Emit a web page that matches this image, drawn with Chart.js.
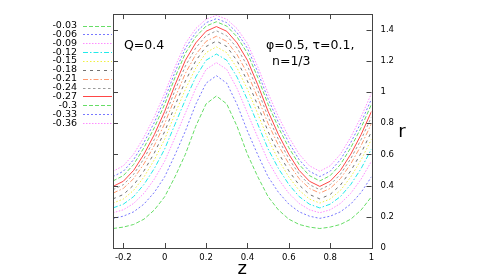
<!DOCTYPE html>
<html>
<head>
<meta charset="utf-8">
<script src="https://cdn.jsdelivr.net/npm/chart.js@4.4.1/dist/chart.umd.min.js"></script>
<style>
  html, body { margin: 0; padding: 0; background: #fff; }
  canvas { display: block; }
</style>
</head>
<body>
<canvas id="chart" width="485" height="277"></canvas>
<script>
// posiciones z (eje x)
const zVals = [-0.25, -0.2, -0.15, -0.1, -0.05, 0, 0.05, 0.1, 0.15, 0.2, 0.25, 0.3, 0.35,
               0.4, 0.45, 0.5, 0.55, 0.6, 0.65, 0.7, 0.75, 0.8, 0.85, 0.9, 0.95, 1.0];

// valores de r para cada curva
const r003 = [0.125,0.134,0.151,0.185,0.244,0.329,0.457,0.601,0.780,0.924,0.975,0.924,0.780,0.601,0.457,0.329,0.244,0.185,0.151,0.134,0.125,0.134,0.151,0.185,0.244,0.329];
const r006 = [0.190,0.204,0.232,0.282,0.357,0.457,0.598,0.750,0.921,1.057,1.105,1.057,0.921,0.750,0.598,0.457,0.357,0.282,0.232,0.204,0.190,0.204,0.232,0.282,0.357,0.457];
const r009 = [0.226,0.245,0.286,0.351,0.442,0.557,0.709,0.865,1.023,1.145,1.189,1.145,1.023,0.865,0.709,0.557,0.442,0.351,0.286,0.245,0.226,0.245,0.286,0.351,0.442,0.557];
const r012 = [0.257,0.281,0.330,0.408,0.510,0.635,0.794,0.951,1.096,1.204,1.244,1.204,1.096,0.951,0.794,0.635,0.510,0.408,0.330,0.281,0.257,0.281,0.330,0.408,0.510,0.635];
const r015 = [0.288,0.314,0.370,0.456,0.566,0.698,0.861,1.018,1.154,1.253,1.290,1.253,1.154,1.018,0.861,0.698,0.566,0.456,0.370,0.314,0.288,0.314,0.370,0.456,0.566,0.698];
const r018 = [0.315,0.343,0.404,0.495,0.610,0.747,0.914,1.071,1.200,1.292,1.327,1.292,1.200,1.071,0.914,0.747,0.610,0.495,0.404,0.343,0.315,0.343,0.404,0.495,0.610,0.747];
const r021 = [0.352,0.382,0.445,0.540,0.658,0.798,0.964,1.120,1.240,1.325,1.358,1.325,1.240,1.120,0.964,0.798,0.658,0.540,0.445,0.382,0.352,0.382,0.445,0.540,0.658,0.798];
const r024 = [0.374,0.406,0.473,0.574,0.696,0.841,1.011,1.167,1.283,1.361,1.393,1.361,1.283,1.167,1.011,0.841,0.696,0.574,0.473,0.406,0.374,0.406,0.473,0.574,0.696,0.841];
const r027 = [0.395,0.428,0.498,0.602,0.728,0.876,1.047,1.204,1.315,1.390,1.420,1.390,1.315,1.204,1.047,0.876,0.728,0.602,0.498,0.428,0.395,0.428,0.498,0.602,0.728,0.876];
const r030 = [0.430,0.464,0.536,0.644,0.772,0.922,1.094,1.249,1.354,1.423,1.451,1.423,1.354,1.249,1.094,0.922,0.772,0.644,0.536,0.464,0.430,0.464,0.536,0.644,0.772,0.922];
const r033 = [0.458,0.492,0.567,0.677,0.806,0.956,1.129,1.281,1.381,1.445,1.471,1.445,1.381,1.281,1.129,0.956,0.806,0.677,0.567,0.492,0.458,0.492,0.567,0.677,0.806,0.956];
const r036 = [0.492,0.527,0.602,0.712,0.842,0.992,1.162,1.312,1.407,1.467,1.492,1.467,1.407,1.312,1.162,0.992,0.842,0.712,0.602,0.527,0.492,0.527,0.602,0.712,0.842,0.992];

const seriesLabels = ['-0.03','-0.06','-0.09','-0.12','-0.15','-0.18','-0.21','-0.24','-0.27','-0.3','-0.33','-0.36'];
const seriesData = [r003, r006, r009, r012, r015, r018, r021, r024, r027, r030, r033, r036];

// marcas de los ejes
const xTicks = [-0.2, 0, 0.2, 0.4, 0.6, 0.8, 1];
const yTicks = [0, 0.2, 0.4, 0.6, 0.8, 1, 1.2, 1.4];

// estilos tipo gnuplot (tonos claros como en la imagen)
const colores = ['#66dd66', '#7878ff', '#ff8cff', '#22eaea', '#f0f040', '#707070',
                 '#ff9a70', '#9a9a9a', '#ff4646', '#66dd66', '#7878ff', '#ff8cff'];
const trazos = [[4, 2], [2, 2], [1.5, 1.5], [5, 2, 1.5, 2], [1.5, 2], [3, 4],
                [5, 2, 1.5, 2], [2.5, 2.5], [], [4, 2], [2, 2], [1.5, 1.5]];

const FONT = "'DejaVu Sans', sans-serif";
const fmt = v => String(Math.round(v * 10) / 10);

const datasets = seriesData.map((serie, i) => ({
    label: seriesLabels[i],
    data: serie.map((r, j) => ({ x: zVals[j], y: r })),
    borderColor: colores[i],
    borderDash: trazos[i],
    borderWidth: 1,
    pointRadius: 0,
    tension: 0,
    fill: false
}));

// dibuja marco, marcas internas, leyenda y textos
const decoracion = {
    id: 'decoracion',
    afterDraw(chart) {
        const ctx = chart.ctx;
        const a = chart.chartArea;
        const xs = chart.scales.x, ys = chart.scales.y;
        ctx.save();
        ctx.strokeStyle = '#444';
        ctx.lineWidth = 1;
        ctx.strokeRect(Math.round(a.left) + 0.5, Math.round(a.top) + 0.5,
                       Math.round(a.right - a.left), Math.round(a.bottom - a.top));
        ctx.beginPath();
        yTicks.forEach(v => {
            const y = Math.round(ys.getPixelForValue(v)) + 0.5;
            ctx.moveTo(a.left, y); ctx.lineTo(a.left + 5, y);
            ctx.moveTo(a.right, y); ctx.lineTo(a.right - 5, y);
        });
        xTicks.forEach(v => {
            const x = Math.round(xs.getPixelForValue(v)) + 0.5;
            ctx.moveTo(x, a.top); ctx.lineTo(x, a.top + 5);
            ctx.moveTo(x, a.bottom); ctx.lineTo(x, a.bottom - 5);
        });
        ctx.stroke();

        // leyenda a la izquierda
        ctx.font = '9.5px ' + FONT;
        ctx.textBaseline = 'middle';
        seriesLabels.forEach((lab, i) => {
            const y = 25.5 + i * 8.87;
            ctx.fillStyle = '#000';
            ctx.textAlign = 'right';
            ctx.fillText(lab, 77, y);
            ctx.strokeStyle = colores[i];
            ctx.setLineDash(trazos[i]);
            ctx.beginPath();
            ctx.moveTo(83, Math.round(y) + 0.5);
            ctx.lineTo(112, Math.round(y) + 0.5);
            ctx.stroke();
        });
        ctx.setLineDash([]);

        // textos del gráfico
        ctx.fillStyle = '#000';
        ctx.textAlign = 'left';
        ctx.font = '12.5px ' + FONT;
        ctx.fillText('Q=0.4', 124, 46);
        ctx.fillText('\u03c6=0.5, \u03c4=0.1,', 266, 46);
        ctx.fillText('n=1/3', 272, 62);

        // títulos de ejes
        ctx.font = '18px ' + FONT;
        ctx.textAlign = 'center';
        ctx.fillText('z', (a.left + a.right) / 2, 269);
        ctx.fillText('r', 402, 132);
        ctx.restore();
    }
};

new Chart(document.getElementById('chart').getContext('2d'), {
    type: 'line',
    data: { datasets: datasets },
    options: {
        responsive: false,
        devicePixelRatio: 1,
        animation: false,
        layout: { padding: { left: 113, top: 5, right: 0, bottom: 0 } },
        plugins: { legend: { display: false }, tooltip: { enabled: false } },
        scales: {
            x: {
                type: 'linear',
                min: -0.25,
                max: 1,
                grid: { display: false, drawTicks: false },
                border: { display: false },
                afterBuildTicks: s => { s.ticks = xTicks.map(v => ({ value: v })); },
                afterFit: s => { s.height = 29; },
                ticks: {
                    padding: 5,
                    color: '#000',
                    maxRotation: 0,
                    font: { family: FONT, size: 8.5 },
                    callback: v => fmt(v)
                }
            },
            y: {
                type: 'linear',
                position: 'right',
                min: 0,
                max: 1.5,
                grid: { display: false, drawTicks: false },
                border: { display: false },
                afterBuildTicks: s => { s.ticks = yTicks.map(v => ({ value: v })); },
                afterFit: s => { s.width = 113.5; },
                ticks: {
                    padding: 9,
                    color: '#000',
                    font: { family: FONT, size: 8.5 },
                    callback: v => fmt(v)
                }
            }
        }
    },
    plugins: [decoracion]
});
</script>
</body>
</html>
